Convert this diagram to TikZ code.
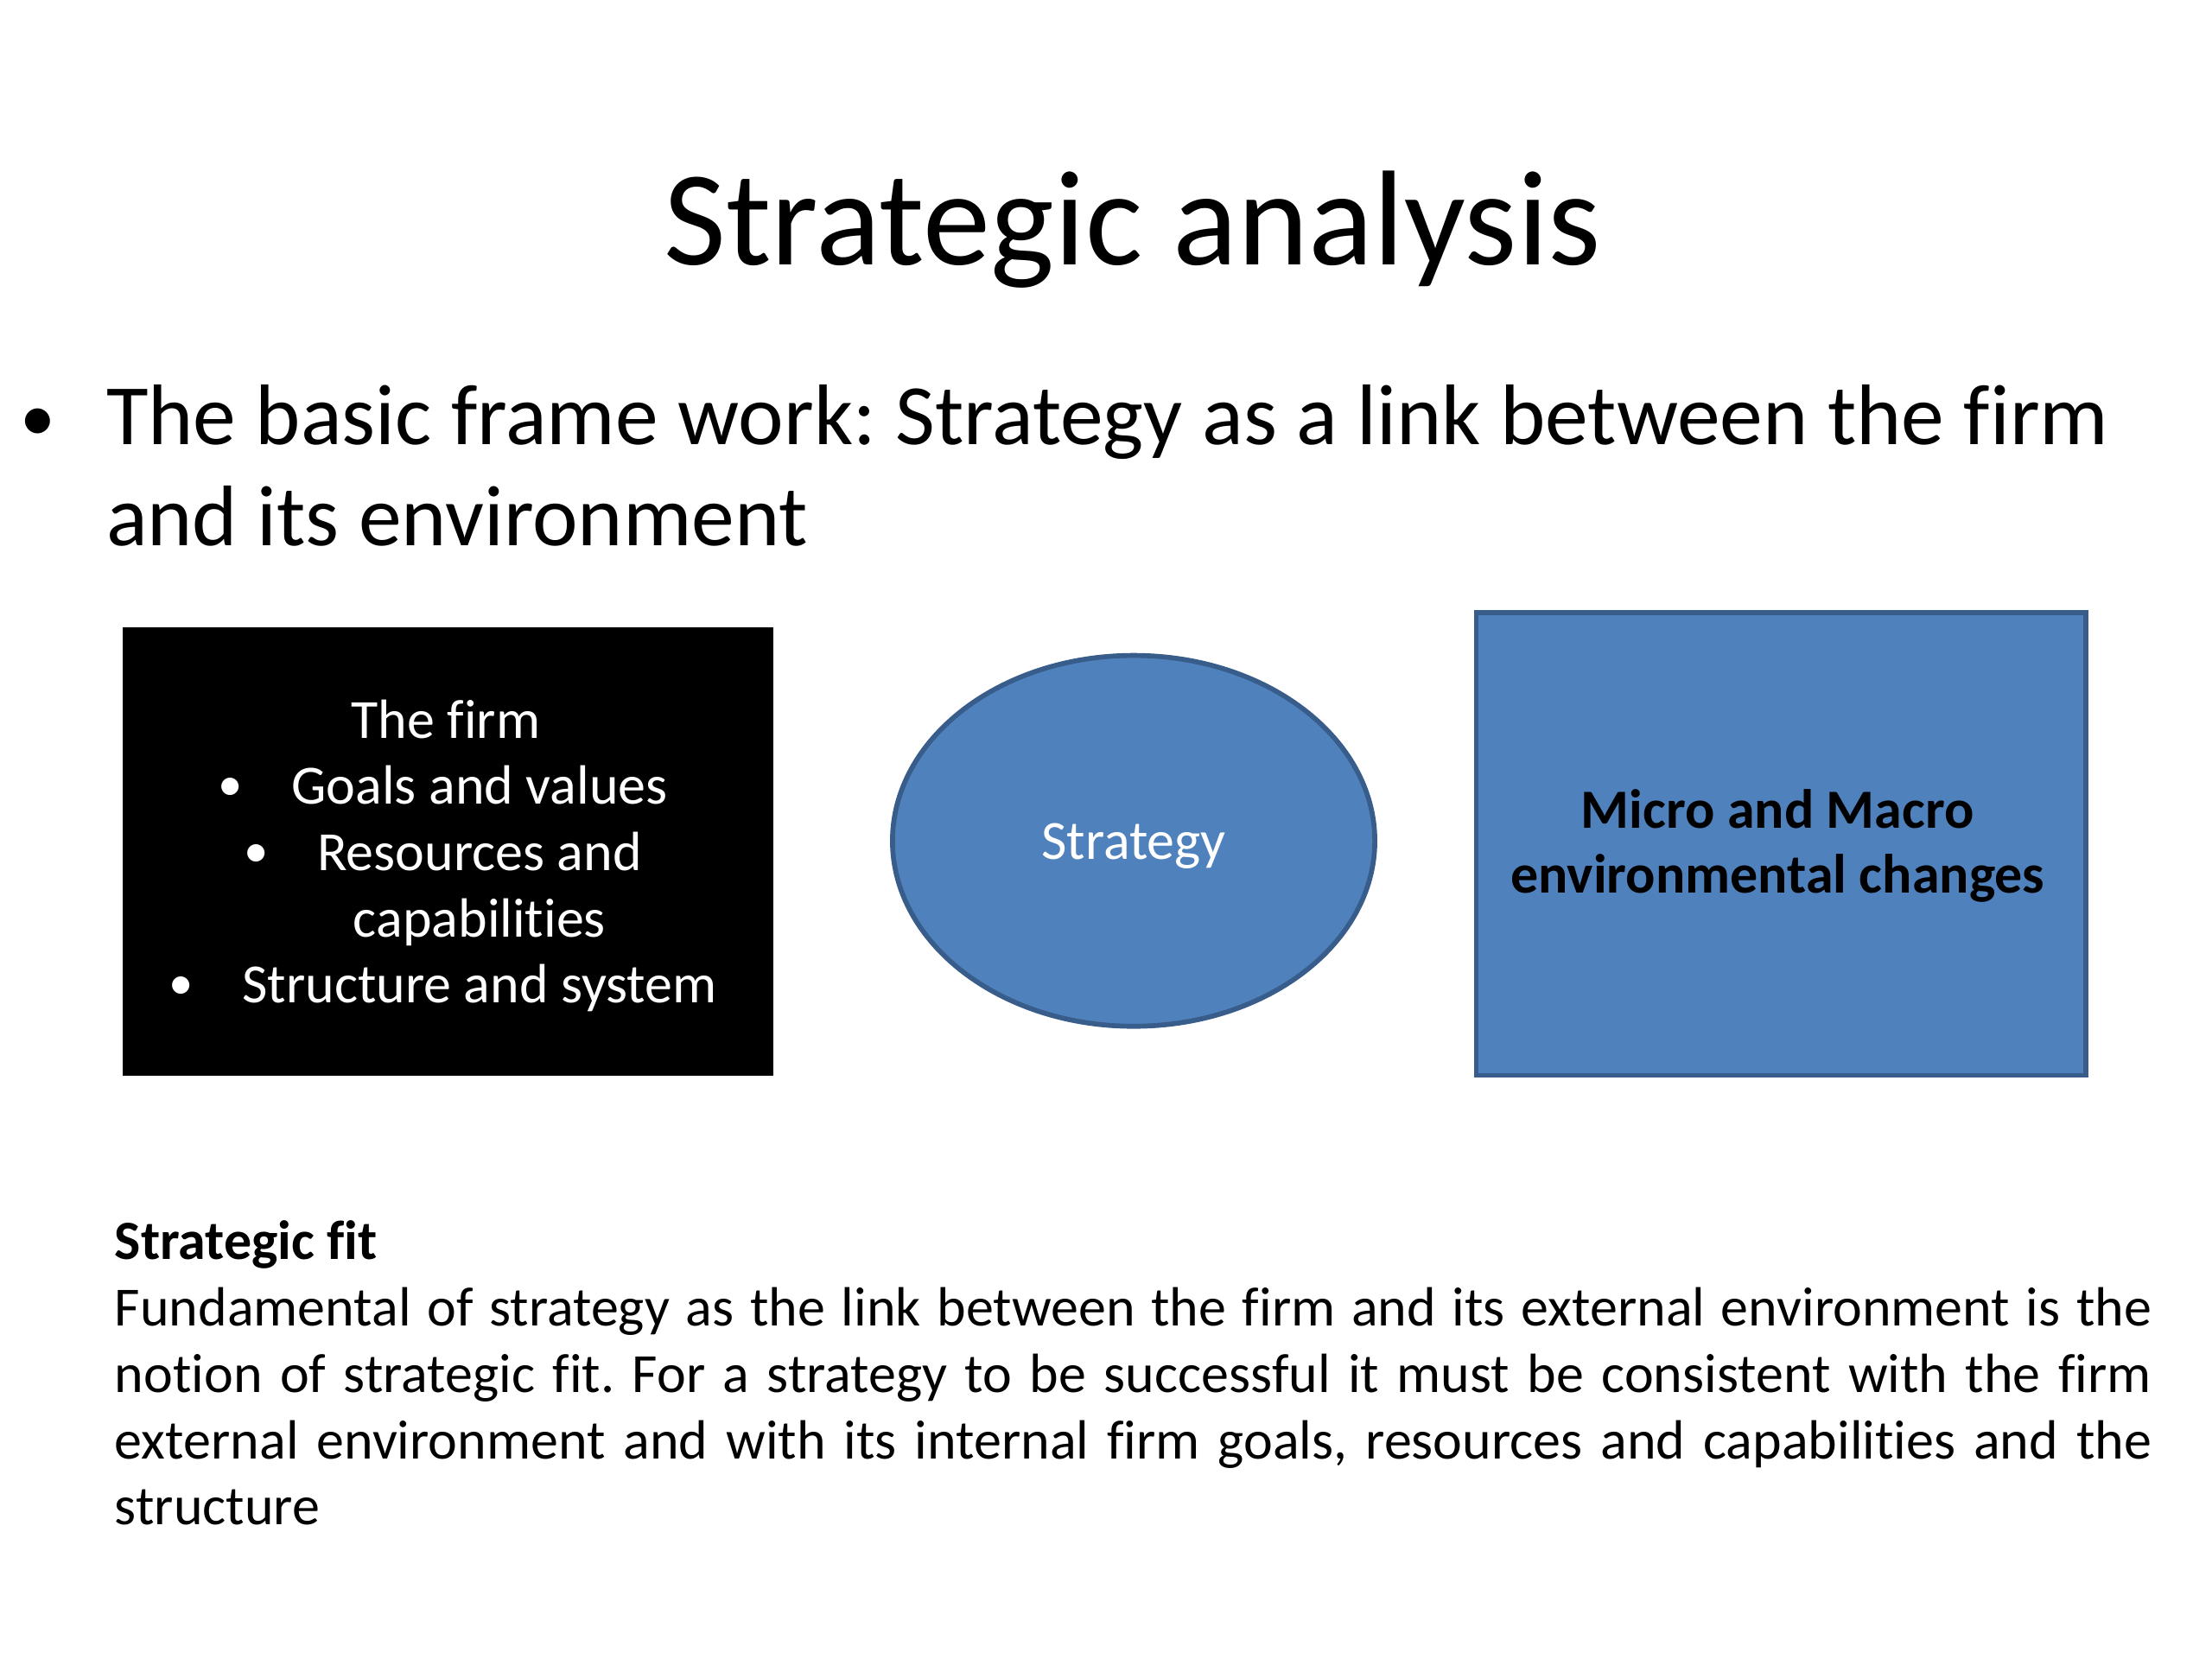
\documentclass[tikz,border=0pt]{standalone}
\usepackage{fontspec}
\setmainfont{Carlito}[Ligatures={NoCommon}]
\usetikzlibrary{shapes.geometric}
\definecolor{accblue}{HTML}{4F81BD}
\definecolor{accborder}{HTML}{385D8A}
\newcommand{\fsz}[1]{\fontsize{#1}{#1}\selectfont}
\frenchspacing
\begin{document}
\begin{tikzpicture}[x=1pt,y=-1pt,
  txt/.style={inner sep=0pt, anchor=base},
  txtw/.style={inner sep=0pt, anchor=base west},
  body/.style={font=\fsz{18}},
  wbody/.style={font=\fsz{18}, text=white},
  bluebox/.style={draw=accborder, line width=1.6pt, fill=accblue, inner sep=0pt}]
\useasboundingbox[fill=white] (0,0) rectangle (720,540);

% title
\node[txt, font=\fsz{44}] (title) at (368.7,86.3) {Strategic analysis};

% bullet text
\node[txt, font=\fsz{23}] (bdot) at (12.4,143.6) {•};
\node[txtw, font=\fsz{28}] (b1) at (34.4,144.6) {The basic frame work: Strategy as a link between the firm};
\node[txtw, font=\fsz{28}] (b2) at (34.4,177.7) {and its environment};

% the firm box
\node[draw=black, fill=black, line width=1pt, inner sep=0pt, anchor=north west,
      minimum width=210.7pt, minimum height=145pt] (firm) at (40,204.2) {};
\node[txt, wbody] (f0) at (145.1,240.2) {The firm};
\node[txt, wbody] (f1) at (156.1,261.7) {Goals and values};
\node[txt, wbody] (f2) at (156.1,283.3) {Resources and};
\node[txt, wbody] (f3) at (156.1,304.9) {capabilities};
\node[txt, wbody] (f4) at (156.1,326.5) {Structure and system};
\node[txt, wbody, font=\fsz{16}] (d1) at ([xshift=-19.7pt,yshift=1.2pt]f1.base west) {•};
\node[txt, wbody, font=\fsz{16}] (d2) at ([xshift=-19.7pt,yshift=1.2pt]f2.base west) {•};
\node[txt, wbody, font=\fsz{16}] (d4) at ([xshift=-19.7pt,yshift=1.2pt]f4.base west) {•};

% strategy ellipse
\node[ellipse, bluebox, minimum width=157pt, minimum height=120.7pt] (strat) at (369,273.7) {};
\node[txt, wbody] (stratlbl) at (369,279.8) {Strategy};

% environment box
\node[bluebox, anchor=north west, minimum width=198.5pt, minimum height=150.5pt] (env) at (479.7,198.7) {};
\node[txt, font=\fsz{18}\bfseries] (e1) at (578.6,269.5) {Micro and Macro};
\node[txt, font=\fsz{18}\bfseries] (e2) at (578.6,290.7) {environmental changes};

% strategic fit paragraph
\node[txtw, font=\fsz{18}\bfseries] (fit) at (37.2,410.0) {Strategic fit};
\node[txtw, body] (p1) at (37.2,431.6) {\makebox[663pt][s]{Fundamental of strategy as the link between the firm and its external environment is the}};
\node[txtw, body] (p2) at (37.2,453.2) {\makebox[663pt][s]{notion of strategic fit. For a strategy to be successful it must be consistent with the firm}};
\node[txtw, body] (p3) at (37.2,474.8) {\makebox[663pt][s]{external environment and with its internal firm goals, resources and capabilities and the}};
\node[txtw, body] (p4) at (37.2,496.4) {structure};
\end{tikzpicture}
\end{document}
